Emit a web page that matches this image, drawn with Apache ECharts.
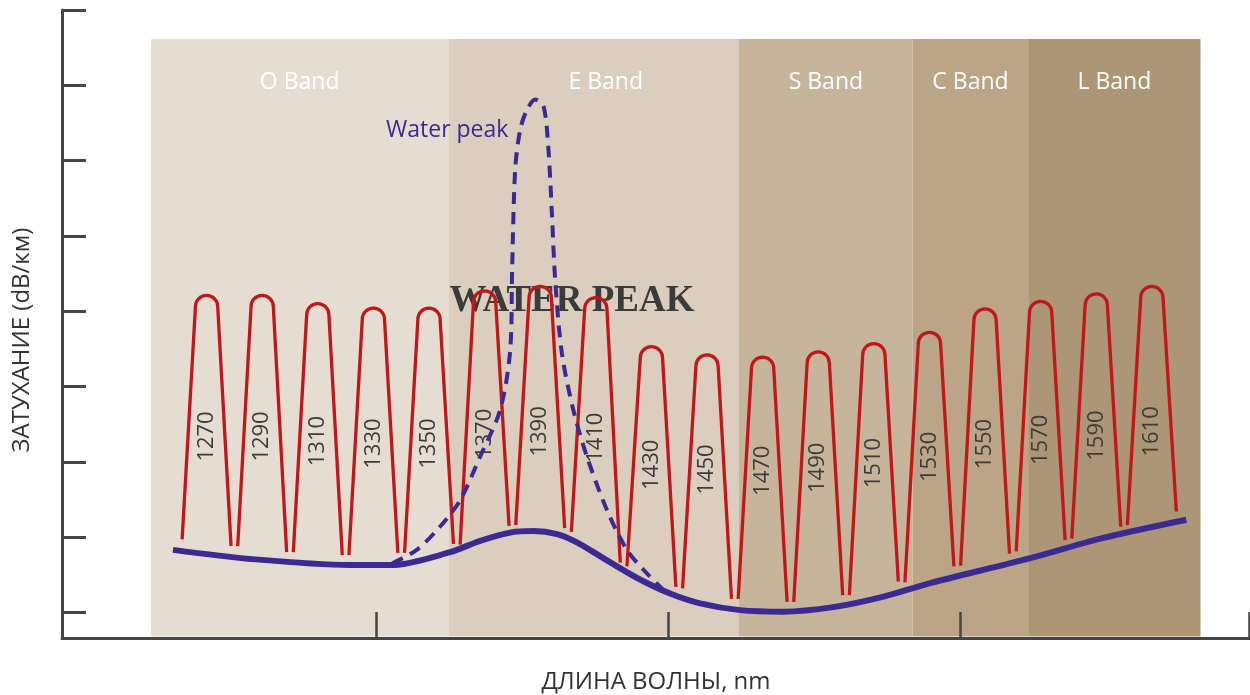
<!DOCTYPE html>
<html>
<head>
<meta charset="utf-8">
<script src="https://cdn.jsdelivr.net/npm/echarts@6/dist/echarts.min.js"></script>
<style>
html, body { margin: 0; padding: 0; background: #fff; }
#chart { width: 1250px; height: 695px; }
</style>
</head>
<body>
<div id="chart"></div>
<script>
var myChart = echarts.init(document.getElementById('chart'));

// spectral bands, nm
var bandNames = ['O Band', 'E Band', 'S Band', 'C Band', 'L Band'];
var bandStart = [1250, 1357, 1461.5, 1524, 1565.5];
var bandEnd = [1357, 1461.5, 1524, 1565.5, 1627.5];

// CWDM channels: peak level and the level of each foot
var channels = [1270, 1290, 1310, 1330, 1350, 1370, 1390, 1410, 1430, 1450, 1470, 1490, 1510, 1530, 1550, 1570, 1590, 1610];
var channelPeak = [4.21, 4.21, 4.10, 4.04, 4.04, 4.27, 4.33, 4.18, 3.53, 3.42, 3.39, 3.46, 3.57, 3.72, 4.03, 4.13, 4.23, 4.33];
var footLeft = [0.97, 0.88, 0.80, 0.76, 0.79, 0.90, 1.16, 1.07, 0.61, 0.32, 0.18, 0.14, 0.23, 0.40, 0.62, 0.81, 0.98, 1.16];
var footRight = [0.88, 0.80, 0.76, 0.79, 0.91, 1.15, 1.12, 0.66, 0.34, 0.18, 0.14, 0.23, 0.41, 0.61, 0.78, 0.96, 1.14, 1.34];

// fibre attenuation (solid) and the old water peak (dashed)
var baseWl = [1257.9, 1285.6, 1321.6, 1336.7, 1357.6, 1368.4, 1379.2, 1387.6, 1396.0, 1403.2, 1412.7, 1424.7, 1436.7, 1447.5, 1461.9, 1477.4, 1495.4, 1513.5, 1530.3, 1566.3, 1591.5, 1622.4];
var baseLoss = [0.83, 0.71, 0.63, 0.63, 0.80, 0.95, 1.06, 1.08, 1.04, 0.93, 0.72, 0.46, 0.25, 0.12, 0.03, 0.01, 0.07, 0.21, 0.39, 0.72, 0.98, 1.23];
var peakWl = [1336.7, 1345.6, 1354.0, 1361.2, 1368.4, 1375.6, 1379.2, 1379.9, 1381.0, 1382.8, 1385.2, 1388.2, 1391.2, 1392.9, 1394.2, 1395.4, 1397.8, 1401.9, 1406.8, 1414.0, 1421.2, 1428.3, 1436.0];
var peakLoss = [0.65, 0.83, 1.14, 1.49, 2.07, 2.69, 3.48, 4.55, 5.88, 6.41, 6.67, 6.81, 6.72, 6.18, 5.30, 4.41, 3.44, 2.69, 2.07, 1.36, 0.83, 0.52, 0.24];

var yTicks = [0, 1, 2, 3, 4, 5, 6, 7, 8];
var xTicks = [1331, 1436, 1541, 1645];

// styles
var bandColors = ['#e6ddd2', '#dbcebe', '#c7b59b', '#bba586', '#ad9676'];
var bandLabelDx = [0, 12, 0, 0, 0];
var BAND_TOP = 7.615, BAND_BOTTOM = -0.32;
var FOOT_HALF = 8.8, ARC_HALF = 4.0, LABEL_RATIO = 0.555;
var axisColor = '#454545';
var purple = '#3c2a93';
var font = '"Open Sans", "Noto Sans", sans-serif';

function renderBand(params, api) {
    var p1 = api.coord([api.value(0), BAND_TOP]);
    var p2 = api.coord([api.value(1), BAND_BOTTOM]);
    var i = params.dataIndex;
    return {
        type: 'group',
        children: [{
            type: 'rect',
            shape: { x: p1[0], y: p1[1], width: p2[0] - p1[0], height: p2[1] - p1[1] },
            style: { fill: bandColors[i] }
        }, {
            type: 'text',
            x: (p1[0] + p2[0]) / 2 + bandLabelDx[i],
            y: p1[1] + 43,
            style: { text: bandNames[i], fill: '#ffffff', font: '23px ' + font, align: 'center', verticalAlign: 'middle' }
        }]
    };
}

function renderChannel(params, api) {
    var wl = api.value(0);
    var peak = api.value(1);
    var pT = api.coord([wl, peak]);
    var pL = api.coord([wl - FOOT_HALF, api.value(2)]);
    var pR = api.coord([wl + FOOT_HALF, api.value(3)]);
    var pText = api.coord([wl, peak * LABEL_RATIO]);
    var r = api.size([ARC_HALF, 0])[0];
    var k = 0.5523;
    var cx = pT[0], cy = pT[1] + r;
    var d = 'M' + pL[0] + ' ' + pL[1] +
        ' L' + (cx - r) + ' ' + cy +
        ' C' + (cx - r) + ' ' + (cy - k * r) + ' ' + (cx - k * r) + ' ' + (cy - r) + ' ' + cx + ' ' + (cy - r) +
        ' C' + (cx + k * r) + ' ' + (cy - r) + ' ' + (cx + r) + ' ' + (cy - k * r) + ' ' + (cx + r) + ' ' + cy +
        ' L' + pR[0] + ' ' + pR[1];
    return {
        type: 'group',
        children: [{
            type: 'path',
            shape: { pathData: d },
            style: { stroke: '#c2171a', lineWidth: 3.3, fill: null, lineJoin: 'round' }
        }, {
            type: 'text',
            x: cx,
            y: pText[1],
            rotation: Math.PI / 2,
            style: { text: String(wl), fill: '#3c3c3c', font: '22px ' + font, align: 'center', verticalAlign: 'middle' }
        }]
    };
}

var option = {
    animation: false,
    grid: { left: 62, right: 0, top: 10, bottom: 57, containLabel: false, outerBoundsMode: 'none' },
    xAxis: {
        type: 'value', min: 1218, max: 1645.3, z: 5,
        name: 'ДЛИНА ВОЛНЫ, nm', nameLocation: 'middle', nameGap: 32,
        nameTextStyle: { color: '#333', fontSize: 24, fontFamily: font },
        axisLine: { show: true, onZero: false, lineStyle: { color: axisColor, width: 3 } },
        axisTick: { show: true, inside: true, length: 26, customValues: xTicks, lineStyle: { color: axisColor, width: 2.5 } },
        axisLabel: { show: false },
        splitLine: { show: false }
    },
    yAxis: {
        type: 'value', min: -0.34, max: 8, z: 5,
        axisLine: { show: true, onZero: false, lineStyle: { color: axisColor, width: 3 } },
        axisTick: { show: true, inside: true, length: 24, customValues: yTicks, lineStyle: { color: axisColor, width: 3 } },
        axisLabel: { show: false },
        splitLine: { show: false }
    },
    graphic: [{
        type: 'text', x: 22, y: 340, rotation: Math.PI / 2,
        style: { text: 'ЗАТУХАНИЕ (dB/км)', fill: '#333', font: '24px ' + font, align: 'center', verticalAlign: 'middle' }
    }, {
        type: 'text', x: 386, y: 130, z: 1.5,
        style: { text: 'Water peak', fill: purple, font: '23px ' + font, align: 'left', verticalAlign: 'middle' }
    }, {
        type: 'text', x: 572, y: 301, z: 1.5,
        style: { text: 'WATER PEAK', fill: '#3b3b3b', font: 'bold 37px "Liberation Serif"', align: 'center', verticalAlign: 'middle' }
    }],
    series: [{
        type: 'custom', z: 1, silent: true,
        renderItem: renderBand,
        encode: { x: [0, 1] },
        data: bandStart.map(function (s, i) { return [s, bandEnd[i]]; })
    }, {
        type: 'custom', z: 2, silent: true,
        renderItem: renderChannel,
        encode: { x: 0, y: 1 },
        data: channels.map(function (c, i) { return [c, channelPeak[i], footLeft[i], footRight[i]]; })
    }, {
        type: 'line', z: 3, silent: true,
        smooth: 0.3, symbol: 'none',
        lineStyle: { color: purple, width: 6 },
        data: baseWl.map(function (w, i) { return [w, baseLoss[i]]; })
    }, {
        type: 'line', z: 4, silent: true,
        smooth: 0.3, symbol: 'none',
        lineStyle: { color: purple, width: 4, type: [12, 8] },
        data: peakWl.map(function (w, i) { return [w, peakLoss[i]]; })
    }]
};
myChart.setOption(option);
</script>
</body>
</html>
